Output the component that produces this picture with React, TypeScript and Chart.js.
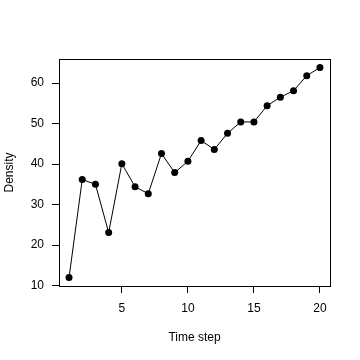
import React, { useEffect, useRef } from "react";
import { Chart, registerables } from "chart.js";

Chart.register(...registerables);

const timeSteps = [1, 2, 3, 4, 5, 6, 7, 8, 9, 10, 11, 12, 13, 14, 15, 16, 17, 18, 19, 20];
const density = [12.0, 36.2, 35.0, 23.1, 40.1, 34.4, 32.7, 42.6, 37.9, 40.7, 45.8, 43.6, 47.6, 50.4, 50.4, 54.4, 56.5, 58.1, 61.8, 63.85];
const xTicks = [5, 10, 15, 20];
const yTicks = [10, 20, 30, 40, 50, 60];
const xTitle = "Time step";
const yTitle = "Density";

const FONT = "'Liberation Sans', Arial, sans-serif";

const boxPlugin = {
  id: "rbox",
  afterDraw(chart: any) {
    const { ctx, chartArea } = chart;
    ctx.save();
    ctx.strokeStyle = "#000";
    ctx.lineWidth = 1;
    ctx.strokeRect(
      Math.round(chartArea.left) + 0.5,
      Math.round(chartArea.top) + 0.5,
      Math.round(chartArea.right - chartArea.left),
      Math.round(chartArea.bottom - chartArea.top)
    );
    ctx.restore();
  },
};

export default function App() {
  const ref = useRef<HTMLCanvasElement | null>(null);
  useEffect(() => {
    if (!ref.current) return;
    const xmin = Math.min(...timeSteps), xmax = Math.max(...timeSteps);
    const ymin = Math.min(...density), ymax = Math.max(...density);
    const xr = xmax - xmin, yr = ymax - ymin;
    const chart = new Chart(ref.current, {
      type: "line",
      data: {
        datasets: [
          {
            data: timeSteps.map((t, i) => ({ x: t, y: density[i] })),
            borderColor: "#000",
            borderWidth: 1,
            pointRadius: 3.5,
            pointBackgroundColor: "#000",
            pointBorderWidth: 0,
            tension: 0,
            fill: false,
          },
        ],
      },
      options: {
        animation: false,
        responsive: false,
        events: [],
        layout: { padding: { left: 0, top: 59, right: 30, bottom: 0 } },
        plugins: { legend: { display: false }, tooltip: { enabled: false } },
        scales: {
          x: {
            type: "linear",
            min: xmin - 0.04 * xr,
            max: xmax + 0.04 * xr,
            afterBuildTicks: (s: any) => {
              s.ticks = xTicks.map((v) => ({ value: v }));
            },
            afterFit: (s: any) => {
              s.height = 74;
            },
            grid: { drawOnChartArea: false, drawTicks: true, tickLength: 7, color: "#000", lineWidth: 1 },
            border: { display: false },
            ticks: { color: "#000", padding: 8, maxRotation: 0, autoSkip: false, font: { family: FONT, size: 12 } },
            title: { display: true, text: xTitle, color: "#000", padding: { top: 0, bottom: 15 }, font: { family: FONT, size: 12 } },
          },
          y: {
            type: "linear",
            min: ymin - 0.04 * yr,
            max: ymax + 0.04 * yr,
            afterBuildTicks: (s: any) => {
              s.ticks = yTicks.map((v) => ({ value: v }));
            },
            afterFit: (s: any) => {
              s.width = 59;
            },
            grid: { drawOnChartArea: false, drawTicks: true, tickLength: 7, color: "#000", lineWidth: 1 },
            border: { display: false },
            ticks: { color: "#000", padding: 8, autoSkip: false, font: { family: FONT, size: 12 } },
            title: { display: true, text: yTitle, color: "#000", padding: { top: 2, bottom: 0 }, font: { family: FONT, size: 12 } },
          },
        },
      },
      plugins: [boxPlugin],
    } as any);
    return () => chart.destroy();
  }, []);
  return (
    <div style={{ position: "fixed", left: 0, top: 0, width: 360, height: 360, background: "#fff" }}>
      <canvas ref={ref} width={360} height={360} style={{ display: "block" }} />
    </div>
  );
}
